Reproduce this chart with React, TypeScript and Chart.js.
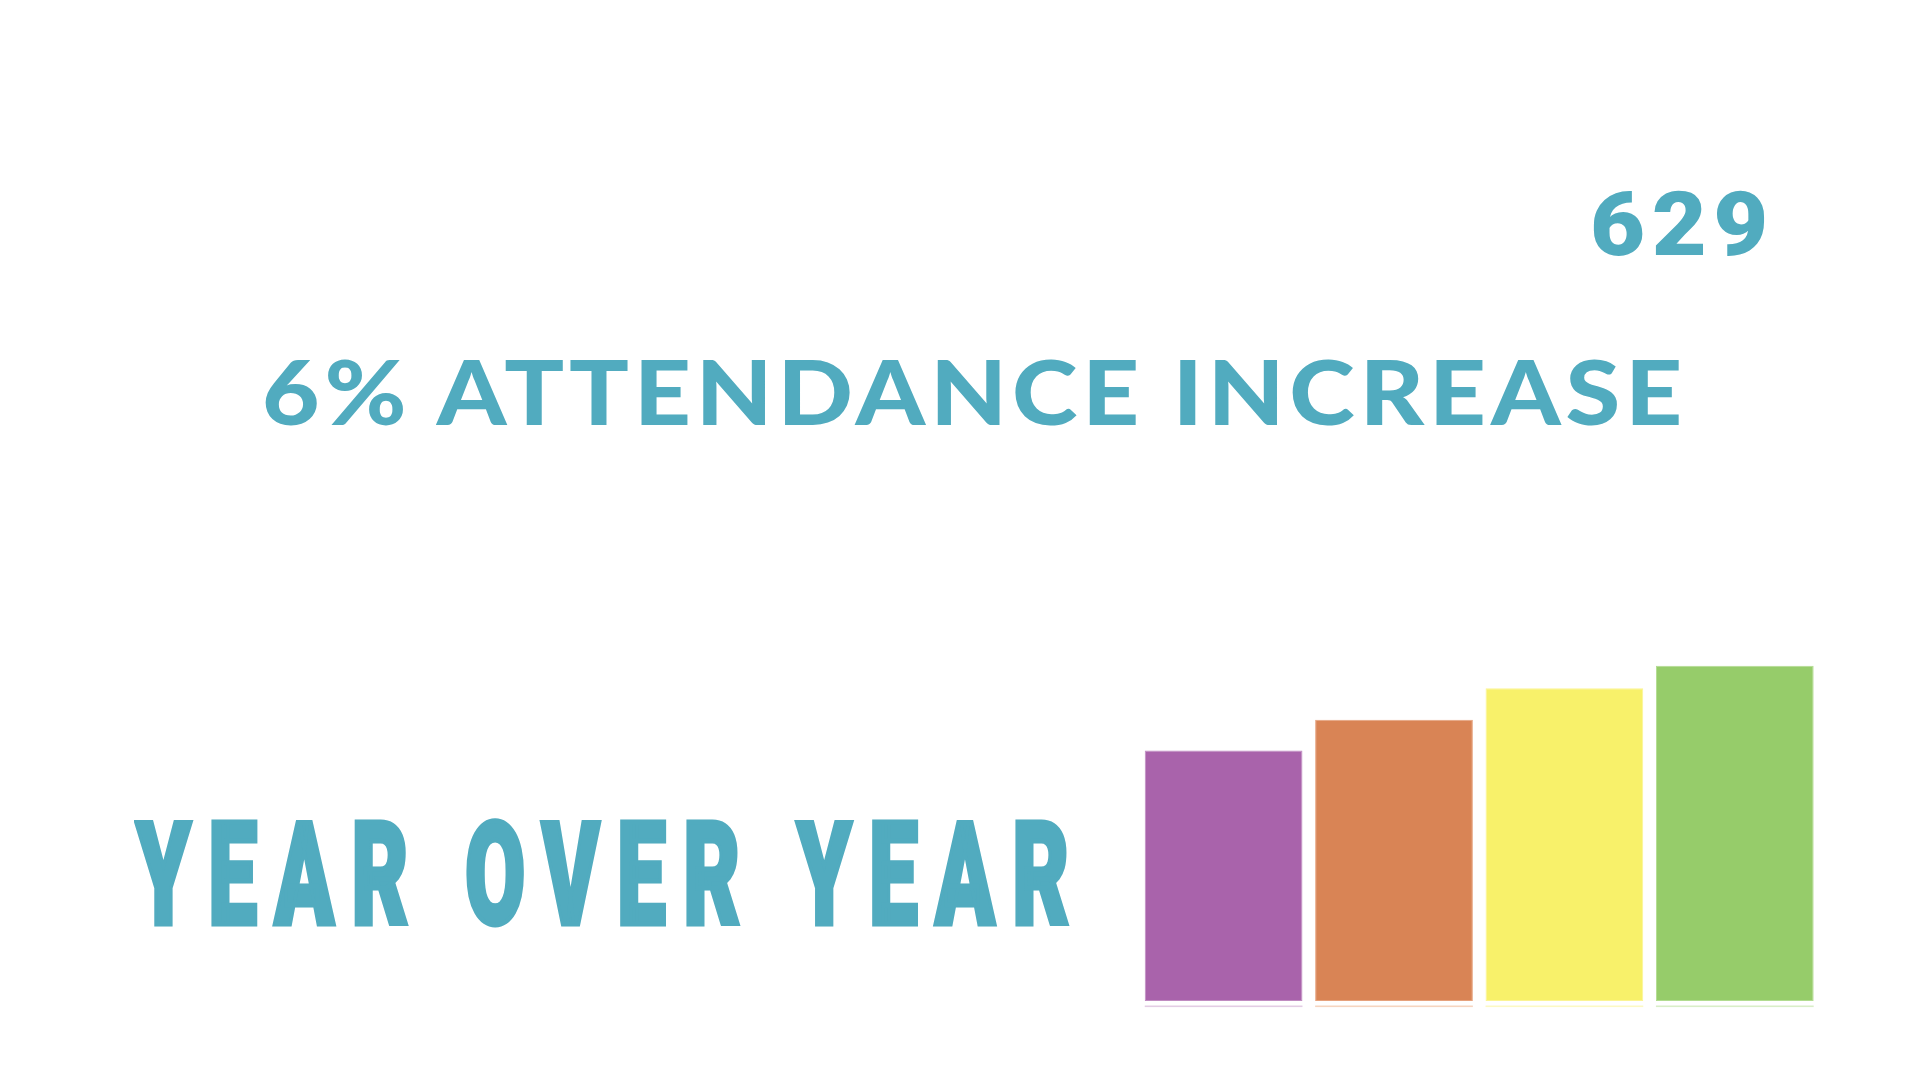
import React, { useEffect, useLayoutEffect, useRef, useState } from "react";
import { Chart, registerables } from "chart.js";

Chart.register(...registerables);

// ---- data ----
const YEARS = ["Year 1", "Year 2", "Year 3", "Year 4"];
const ATTENDANCE = [470, 528, 587, 629];
const BAR_COLORS = ["#a963ab", "#d98455", "#f8f16a", "#96cc6a"];
const BAR_EDGE_COLORS = ["#c08cc1", "#e6a27d", "#fbf494", "#b2dc90"];
const BAR_SHADOW_COLORS = ["#e3cde4", "#f6d5c0", "#fcf9c4", "#d9eec8"];

const NUMBER_TEXT = "629";
const HEADLINE_TEXT = "6% ATTENDANCE INCREASE";
const SUBHEAD_TEXT = "YEAR OVER YEAR";

const TEAL = "#51abbf";

type TextSpec = {
  text: string;
  family: string;
  weight: number;
  spacingEm: number;
  left: number;
  right: number;
  baseline: number;
  capH: number;
  stroke: number;
};

const TEXT_SPECS: TextSpec[] = [
  { text: NUMBER_TEXT, family: "Roboto", weight: 900, spacingEm: 0.07, left: 1593, right: 1764, baseline: 255, capH: 64, stroke: 0 },
  { text: HEADLINE_TEXT, family: "Lato", weight: 900, spacingEm: 0.05, left: 265, right: 1682, baseline: 425, capH: 66, stroke: 0 },
  { text: SUBHEAD_TEXT, family: "Roboto", weight: 900, spacingEm: 0.2, left: 134, right: 1069, baseline: 927, capH: 107, stroke: 5 },
];

function FitText({ spec }: { spec: TextSpec }) {
  const [st, setSt] = useState<React.CSSProperties | null>(null);
  useLayoutEffect(() => {
    const ctx = document.createElement("canvas").getContext("2d") as any;
    const probe = 200;
    ctx.font = `${spec.weight} ${probe}px "${spec.family}"`;
    const capRatio = ctx.measureText("H").actualBoundingBoxAscent / probe;
    const capFill = spec.capH - spec.stroke;
    const F = capFill / capRatio;
    ctx.font = `${spec.weight} ${F}px "${spec.family}"`;
    ctx.letterSpacing = `${spec.spacingEm * F}px`;
    const m = ctx.measureText(spec.text);
    const inkW = m.actualBoundingBoxLeft + m.actualBoundingBoxRight;
    const s = (spec.right - spec.left) / (inkW + spec.stroke);
    const A = m.fontBoundingBoxAscent;
    const D = m.fontBoundingBoxDescent;
    const textBaseline = spec.baseline - spec.stroke / 2;
    const top = textBaseline - (F + A - D) / 2;
    const left = spec.left + s * (m.actualBoundingBoxLeft + spec.stroke / 2);
    setSt({
      position: "absolute",
      left,
      top,
      fontFamily: `"${spec.family}"`,
      fontWeight: spec.weight,
      fontSize: `${F}px`,
      lineHeight: `${F}px`,
      letterSpacing: `${spec.spacingEm * F}px`,
      whiteSpace: "pre",
      color: TEAL,
      transform: `scaleX(${s})`,
      transformOrigin: "0 0",
      WebkitTextStroke: spec.stroke ? `${spec.stroke}px ${TEAL}` : undefined,
    } as React.CSSProperties);
  }, [spec]);
  return <span style={st ?? { position: "absolute", visibility: "hidden" }}>{spec.text}</span>;
}

const barShadowPlugin = {
  id: "barShadow",
  afterDatasetsDraw(chart: any) {
    const meta = chart.getDatasetMeta(0);
    const ctx = chart.ctx;
    ctx.save();
    meta.data.forEach((bar: any, i: number) => {
      const p = bar.getProps(["x", "width", "base"], true);
      ctx.fillStyle = BAR_SHADOW_COLORS[i % BAR_SHADOW_COLORS.length];
      ctx.fillRect(p.x - p.width / 2, p.base + 4.5, p.width, 1.6);
    });
    ctx.restore();
  },
};

export default function App() {
  const canvasRef = useRef<HTMLCanvasElement | null>(null);

  useEffect(() => {
    if (!canvasRef.current) return;
    const chart = new Chart(canvasRef.current, {
      type: "bar",
      data: {
        labels: YEARS,
        datasets: [
          {
            data: ATTENDANCE,
            backgroundColor: BAR_COLORS,
            borderColor: BAR_EDGE_COLORS,
            borderWidth: 1,
            borderSkipped: false,
            barPercentage: 0.9257,
            categoryPercentage: 1,
          },
        ],
      },
      options: {
        animation: false,
        responsive: false,
        maintainAspectRatio: false,
        devicePixelRatio: 1,
        layout: { padding: { left: 1138.4, right: 100, top: 628, bottom: 79 } },
        plugins: { legend: { display: false }, tooltip: { enabled: false }, title: { display: false } },
        scales: {
          x: { display: false, offset: true, grid: { display: false } },
          y: { display: false, min: 0, max: 700, grid: { display: false } },
        },
      },
      plugins: [barShadowPlugin],
    });
    return () => chart.destroy();
  }, []);

  return (
    <div
      style={{
        position: "fixed",
        left: 0,
        top: 0,
        width: 1920,
        height: 1080,
        background: "#ffffff",
        overflow: "hidden",
      }}
    >
      <canvas
        ref={canvasRef}
        width={1920}
        height={1080}
        style={{ position: "absolute", left: 0, top: 0, width: 1920, height: 1080 }}
      />
      {TEXT_SPECS.map((s) => (
        <FitText key={s.text} spec={s} />
      ))}
    </div>
  );
}
